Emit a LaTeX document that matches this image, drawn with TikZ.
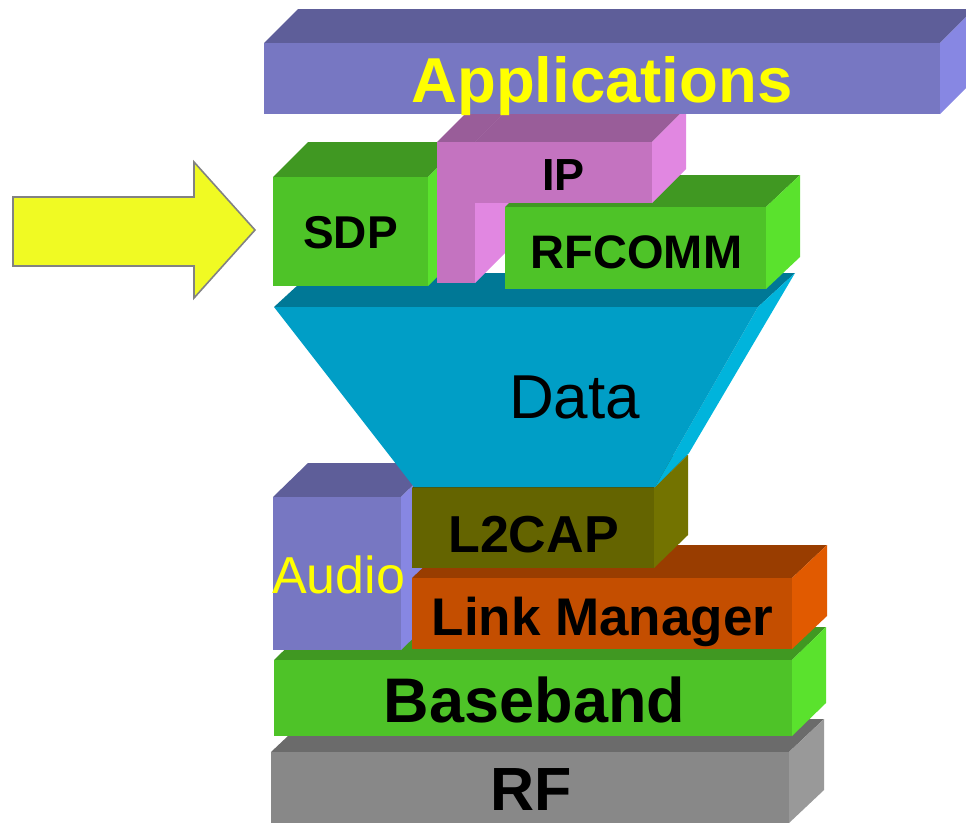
\documentclass[tikz,border=0pt]{standalone}
\usepackage{fontspec}
\setmainfont{Liberation Sans}

% face colours: front / top / side
\definecolor{appF}{RGB}{119,119,194}
\definecolor{appT}{RGB}{94,94,153}
\definecolor{appS}{RGB}{135,135,227}
\definecolor{grnF}{RGB}{78,195,40}
\definecolor{grnT}{RGB}{64,152,34}
\definecolor{grnS}{RGB}{90,226,45}
\definecolor{ipF}{RGB}{196,115,192}
\definecolor{ipT}{RGB}{153,93,153}
\definecolor{ipS}{RGB}{225,135,225}
\definecolor{datF}{RGB}{0,158,198}
\definecolor{datT}{RGB}{0,120,150}
\definecolor{datS}{RGB}{0,180,220}
\definecolor{l2F}{RGB}{100,100,0}
\definecolor{l2T}{RGB}{80,80,0}
\definecolor{l2S}{RGB}{115,115,0}
\definecolor{lmF}{RGB}{196,78,0}
\definecolor{lmT}{RGB}{153,61,0}
\definecolor{lmS}{RGB}{225,90,0}
\definecolor{rfF}{RGB}{136,136,136}
\definecolor{rfT}{RGB}{107,107,107}
\definecolor{rfS}{RGB}{153,153,153}
\definecolor{arrowY}{RGB}{240,250,35}
\definecolor{arrowE}{RGB}{130,130,130}
\definecolor{txtY}{RGB}{255,255,0}

% a layer slab: front corners (x1,y1)-(x2,y2), depth (dx,dy), front/top/side colours
\newcommand\slab[9]{%
  \fill[#8] (#1,#2) -- (#3,#2) -- ++(#5,#6) -- ++({#1-#3},0) -- cycle;
  \fill[#9] (#3,#2) -- ++(#5,#6) -- ++(0,{#4-#2}) -- (#3,#4) -- cycle;
  \fill[#7] (#1,#2) rectangle (#3,#4);
}

\begin{document}
\begin{tikzpicture}[x=1pt,y=-1pt,
  lbl/.style={inner sep=0pt, anchor=base, font=\bfseries},
  big/.style={inner sep=0pt, anchor=base}]
\useasboundingbox (0,0) rectangle (966,822);

% bottom of the stack upwards
\slab{271}{752}{789}{823}{35}{-33}{rfF}{rfT}{rfS}
\slab{274}{660}{792}{736}{34}{-33}{grnF}{grnT}{grnS}
\slab{273}{497}{401}{650}{35}{-34}{appF}{appT}{appS}
\slab{412}{578}{792}{649}{35}{-33}{lmF}{lmT}{lmS}
\slab{412}{488}{654}{568}{34}{-33}{l2F}{l2T}{l2S}

% data funnel
\fill[datT] (274,307) -- (758,307) -- (795,273) -- (311,273) -- cycle;
\fill[datS] (758,307) -- (795,273) -- (689,453) -- (655,487) -- cycle;
\fill[datF] (274,307) -- (758,307) -- (655,487) -- (414,487) -- cycle;

% upper protocols: SDP, the IP column, RFCOMM, then the IP arm over it
\slab{273}{177}{428}{286}{35}{-35}{grnF}{grnT}{grnS}
\slab{437}{142}{475}{283}{34}{-34}{ipF}{ipT}{ipS}
\slab{505}{207}{766}{289}{34}{-32}{grnF}{grnT}{grnS}
\slab{475}{142}{652}{203}{34}{-34}{ipF}{ipT}{ipS}
\draw[ipT!80!black, line width=0.4pt, opacity=0.4] (475,142) -- ++(34,-34);
\slab{264}{43}{940}{114}{34}{-34}{appF}{appT}{appS}

% pointer arrow
\draw[fill=arrowY, draw=arrowE, line width=1.6pt, line join=miter]
  (13,197) -- (194,197) -- (194,162) -- (255,230) -- (194,298)
  -- (194,266) -- (13,266) -- cycle;

% labels
\node[lbl, text=txtY, font=\bfseries\fontsize{63.5}{63.5}\selectfont] (tApp) at (602,102) {Applications};
\node[lbl, font=\bfseries\fontsize{46}{46}\selectfont] (tSDP) at (350.5,248) {SDP};
\node[lbl, font=\bfseries\fontsize{45}{45}\selectfont] (tIP) at (563.5,190) {IP};
\node[lbl, font=\bfseries\fontsize{47}{47}\selectfont] (tRF) at (636.5,268) {RFCOMM};
\node[big, font=\fontsize{62}{62}\selectfont] (tData) at (574.5,418) {Data};
\node[big, text=txtY, font=\fontsize{52}{52}\selectfont] (tAud) at (338.5,593) {Audio};
\node[lbl, font=\bfseries\fontsize{52}{52}\selectfont] (tL2) at (533.5,552) {L2CAP};
\node[lbl, font=\bfseries\fontsize{53}{53}\selectfont] (tLM) at (602.5,635) {Link Manager};
\node[lbl, font=\bfseries\fontsize{63}{63}\selectfont] (tBB) at (534.5,722) {Baseband};
\node[lbl, font=\bfseries\fontsize{61}{61}\selectfont] (tRFl) at (531,810) {RF};
\end{tikzpicture}
\end{document}
